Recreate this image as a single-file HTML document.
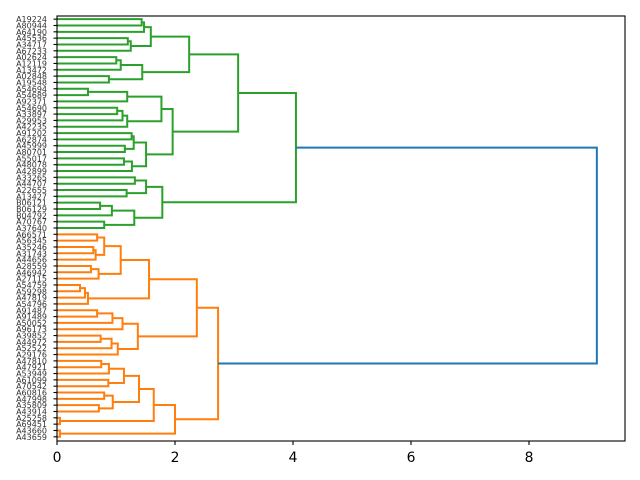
<!DOCTYPE html>
<html><head><meta charset="utf-8"><style>
html,body{margin:0;padding:0;background:#fff;}
svg{display:block;font-family:"DejaVu Sans","Liberation Sans",sans-serif;}
</style></head><body>
<svg id="s" width="640" height="480" viewBox="0 0 640 480" xmlns="http://www.w3.org/2000/svg"></svg>
<script>
var labels=["A19224","A80944","A64190","A45536","A34717","A67233","A02624","A12119","A13472","A02848","A19548","A54694","A54689","A92371","A54690","A33897","A29953","A42235","A91202","A62874","A45999","A80701","A55017","A48078","A42899","A33265","A44707","A22655","A13427","B06121","B06129","B04792","A70767","A37640",
"A66571","A56345","A35246","A31743","A44656","A28559","A46942","A27115","A54759","A59298","A47819","A54796","A91487","A91489","A50052","A96173","A39852","A44972","A52522","A29176","A47810","A47921","A53949","A61099","A70542","A60816","A47998","A35809","A43914","A25258","A69451","A43660","A43659"];
function N(h,a,b){return [h,a,b];}
var g=N(4.05,
 N(3.07,
  N(2.24,
   N(1.59,N(1.475,N(1.435,0,1),2),N(1.25,N(1.20,3,4),5)),
   N(1.445,N(1.08,N(1.005,6,7),8),N(0.88,9,10))),
  N(1.96,
   N(1.77,N(1.19,N(0.525,11,12),13),N(1.19,N(1.11,N(1.02,14,15),16),17)),
   N(1.51,N(1.30,N(1.265,18,19),N(1.15,20,21)),N(1.27,N(1.135,22,23),24)))),
 N(1.785,
  N(1.51,N(1.32,25,26),N(1.18,27,28)),
  N(1.31,N(0.93,N(0.73,29,30),31),N(0.80,32,33))));
var o=N(2.73,
 N(2.37,
  N(1.56,
   N(1.08,N(0.80,N(0.68,34,35),N(0.655,N(0.615,36,37),38)),N(0.705,N(0.575,39,40),41)),
   N(0.525,N(0.475,N(0.39,42,43),44),45)),
  N(1.37,N(1.11,N(0.94,N(0.68,46,47),48),49),N(1.03,N(0.925,N(0.74,50,51),52),53))),
 N(2.0,
  N(1.64,
   N(1.39,N(1.135,N(0.88,N(0.75,54,55),56),N(0.87,57,58)),N(0.945,N(0.80,59,60),N(0.71,61,62))),
   N(0.05,63,64)),
  N(0.05,65,66)));
function X(v){return 57+v*59;}
function Y(i){return 16+(5+10*i)*0.6328;}
var out=[];
function walk(n,col){
 if(typeof n==="number")return {x:X(0),y:Y(n)};
 var a=walk(n[1],col),b=walk(n[2],col),x=X(n[0]);
 out.push('<path d="M'+a.x+' '+a.y+'H'+x+'V'+b.y+'H'+b.x+'" fill="none" stroke="'+col+'" stroke-width="2"/>');
 return {x:x,y:(a.y+b.y)/2};
}
var a=walk(g,"#2ca02c"),b=walk(o,"#ff7f0e"),rx=X(9.15);
out.push('<path d="M'+a.x+' '+a.y+'H'+rx+'V'+b.y+'H'+b.x+'" fill="none" stroke="#1f77b4" stroke-width="2"/>');
var s=out.join("");
s+='<rect x="57" y="16" width="568" height="425" fill="none" stroke="#000" stroke-width="1.1"/>';
for(var i=0;i<labels.length;i++){
 s+='<line x1="57" x2="53.5" y1="'+Y(i)+'" y2="'+Y(i)+'" stroke="#000" stroke-width="1.1"/>';
 s+='<text x="47" y="'+(Y(i)+3)+'" font-size="8" text-anchor="end" fill="#333">'+labels[i]+'</text>';
}
for(var t=0;t<=8;t+=2){
 var x=X(t);
 s+='<line x1="'+x+'" x2="'+x+'" y1="441" y2="445" stroke="#000" stroke-width="1.1"/>';
 s+='<text x="'+x+'" y="462" font-size="13.9" text-anchor="middle" fill="#000">'+t+'</text>';
}
document.getElementById("s").innerHTML=s;
</script>
</body></html>
